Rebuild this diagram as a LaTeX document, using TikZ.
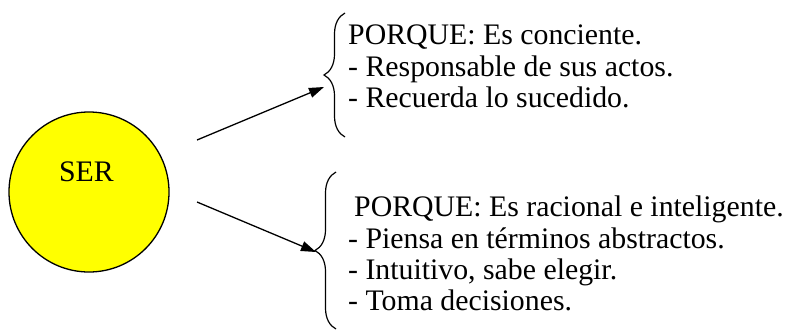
\documentclass[tikz,border=0pt]{standalone}
\usepackage{fontspec}
\setmainfont{Liberation Serif}
\usetikzlibrary{positioning,arrows.meta,decorations.pathreplacing}
\definecolor{amarillo}{RGB}{255,255,0}
\tikzstyle{ser}=[circle, draw=black, fill=amarillo, minimum size=160pt, inner sep=0pt, line width=1.3pt]
\tikzstyle{etiqueta}=[inner sep=0pt, anchor=base, font=\fontsize{29.8}{31.2}\selectfont]
\tikzstyle{lista}=[align=left, anchor=north west, inner sep=0pt, font=\fontsize{29.8}{31.2}\selectfont]
\tikzstyle{llave}=[decorate, decoration={brace, amplitude=21pt}, line width=1.2pt]
\tikzstyle{myarrow}=[-{Triangle[length=15pt, width=10pt]}, line width=1.3pt]
\begin{document}
\begin{tikzpicture}[x=1pt, y=-1pt]
        \useasboundingbox (0,0) rectangle (789,330);

        % Circle
        \node (SER) [ser] at (89,192) {};
        \node (SER-text) [etiqueta] at (86.5,181) {SER};

        % Braces
        \draw[llave] (345,137) -- (345,13);
        \draw[llave] (336,329) -- (336,172);

        % Reasons
        \node (razon1) [lista] at (348,25) {PORQUE: Es conciente.\\- Responsable de sus actos.\\- Recuerda lo sucedido.};
        \node (razon2) [lista] at (348,196) {\hspace*{6pt}PORQUE: Es racional e inteligente.\\- Piensa en términos abstractos.\\- Intuitivo, sabe elegir.\\- Toma decisiones.};

        % Arrows
        \coordinate (from1) at (197,140);
        \coordinate (to1) at (324,87);
        \coordinate (from2) at (197,202);
        \coordinate (to2) at (316,252);
        \draw[myarrow] (from1) -- (to1);
        \draw[myarrow] (from2) -- (to2);
\end{tikzpicture}
\end{document}
